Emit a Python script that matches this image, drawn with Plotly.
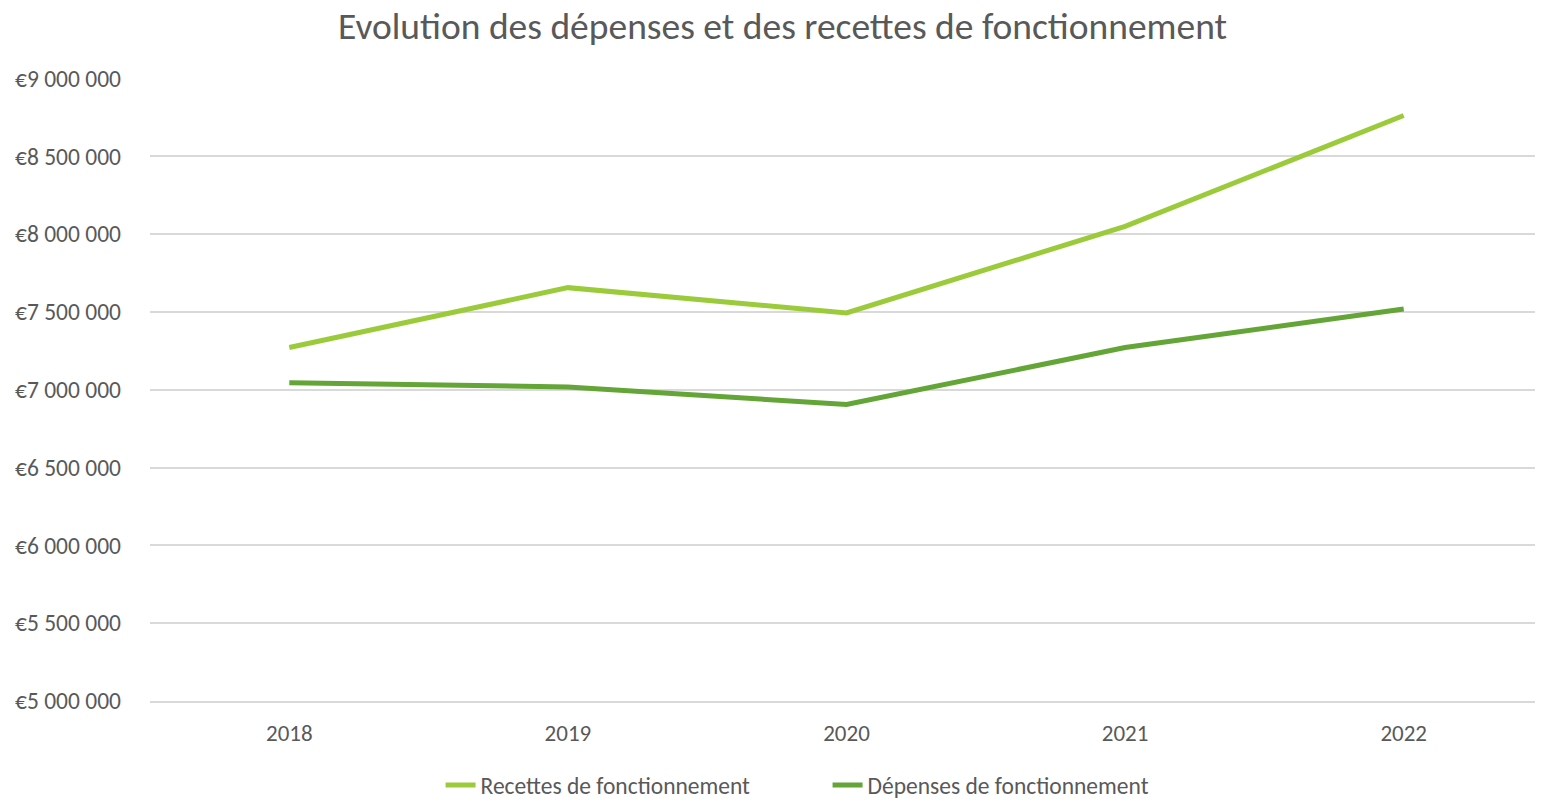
import plotly.graph_objects as go

annees = ["2018", "2019", "2020", "2021", "2022"]
recettes = [7271000, 7656000, 7493000, 8050000, 8762000]
depenses = [7045000, 7018000, 6905000, 7271000, 7519000]
tick_vals = [5000000, 5500000, 6000000, 6500000, 7000000, 7500000, 8000000, 8500000, 9000000]
tick_text = ["€5 000 000", "€5 500 000", "€6 000 000", "€6 500 000", "€7 000 000",
             "€7 500 000", "€8 000 000", "€8 500 000", "€9 000 000"]

FONT = "Carlito, Calibri, Liberation Sans Narrow, Open Sans, sans-serif"
TXT = "#595959"

fig = go.Figure()
fig.add_trace(go.Scatter(x=annees, y=recettes, mode="lines", name="Recettes de fonctionnement",
                         line=dict(color="#9BCB3B", width=5)))
fig.add_trace(go.Scatter(x=annees, y=depenses, mode="lines", name="Dépenses de fonctionnement",
                         line=dict(color="#63A537", width=5)))

fig.update_layout(
    width=1535, height=791,
    paper_bgcolor="white", plot_bgcolor="white",
    margin=dict(l=142, r=0, t=70, b=98, autoexpand=False),
    title=dict(text="Evolution des dépenses et des recettes de fonctionnement",
               x=0.5046, xanchor="center", y=0.977, yanchor="middle",
               font=dict(family=FONT, size=37.5, color=TXT)),
    font=dict(family=FONT, color=TXT, size=23.5),
    showlegend=True,
    legend=dict(orientation="h", x=0.4864, xanchor="center", y=-0.135, yanchor="middle",
                font=dict(family=FONT, size=23.5, color=TXT),
                entrywidth=342, entrywidthmode="pixels",
                traceorder="normal"),
    xaxis=dict(type="category", range=[-0.5, 4.5], showgrid=False, zeroline=False,
               showline=True, linecolor="#D9D9D9", linewidth=1.5, ticks="",
               tickfont=dict(family=FONT, size=23, color=TXT), ticklabelstandoff=11),
    yaxis=dict(range=[5000000, 9003000], tickvals=tick_vals, ticktext=tick_text,
               showgrid=True, gridcolor="#D9D9D9", gridwidth=1.5, zeroline=False,
               showline=False, ticks="", tickfont=dict(family=FONT, size=23.5, color=TXT),
               ticklabelstandoff=28),
)

fig.write_html("out.html")
